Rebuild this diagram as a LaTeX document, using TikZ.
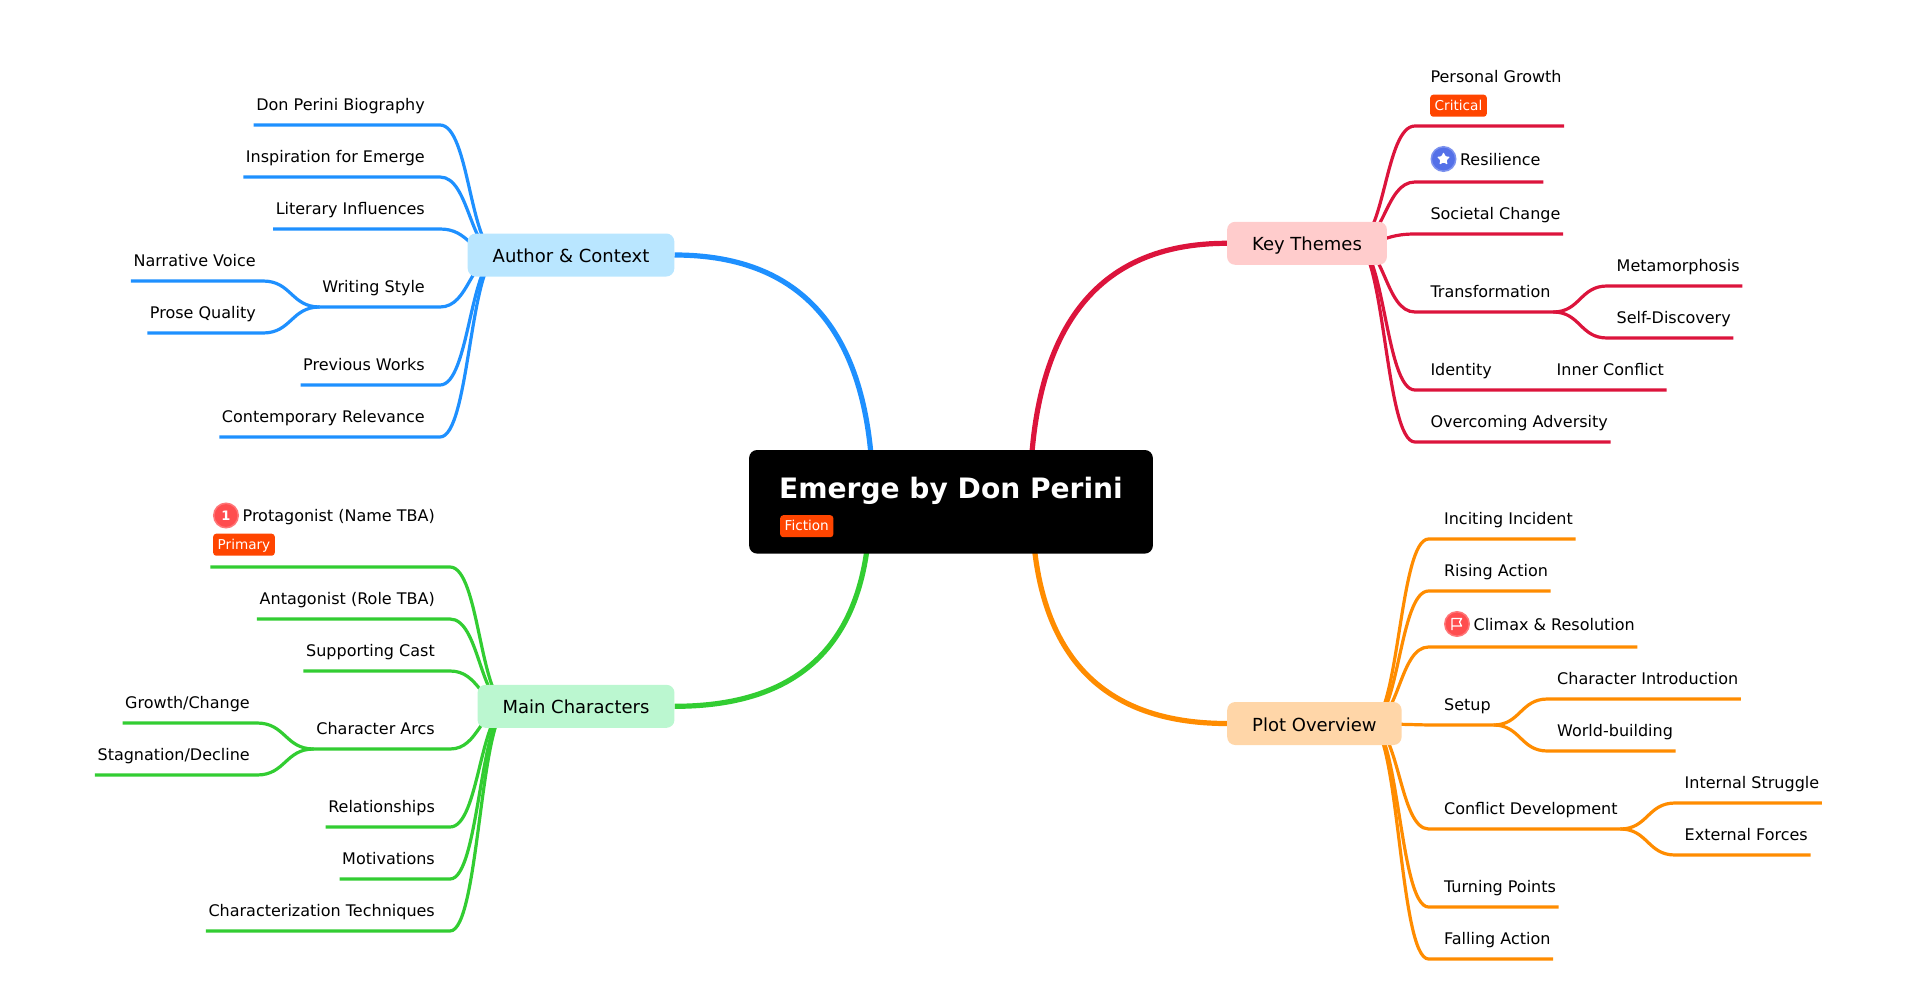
\documentclass[tikz,border=0pt]{standalone}
\usepackage{fontspec}
\setmainfont{DejaVu Sans}
\usetikzlibrary{calc, shapes.geometric, backgrounds}
\definecolor{ablue}{HTML}{1E90FF}
\definecolor{mgreen}{HTML}{32CD32}
\definecolor{kred}{HTML}{DC143C}
\definecolor{porange}{HTML}{FF8C00}
\definecolor{afill}{HTML}{B9E6FF}
\definecolor{mfill}{HTML}{BBF7D0}
\definecolor{kfill}{HTML}{FFCCCC}
\definecolor{pfill}{HTML}{FFD6A8}
\definecolor{tagfill}{HTML}{FF4500}
\definecolor{iconred}{HTML}{FF4D4F}
\definecolor{iconredl}{HTML}{FF7577}
\definecolor{iconblue}{HTML}{5470E8}
\definecolor{iconbluel}{HTML}{7C92EE}
\tikzstyle{branch}=[rounded corners=8pt, inner ysep=0pt, inner xsep=25pt, minimum height=43pt, text height=15pt, text depth=0pt, font=\fontsize{18}{22}\selectfont]
\tikzstyle{leaf}=[inner sep=0pt, text height=12pt, text depth=14pt, font=\fontsize{16}{19}\selectfont]
\tikzstyle{lfl}=[leaf, anchor=south east, execute at begin node=\hspace{2.5pt}, execute at end node=\hspace{15pt}]
\tikzstyle{lfr}=[leaf, anchor=south west, execute at begin node=\hspace{15.3pt}, execute at end node=\hspace{2.5pt}]
\tikzstyle{chl}=[leaf, anchor=south east, execute at begin node=\hspace{2.5pt}, execute at end node=\hspace{7pt}]
\tikzstyle{chr}=[leaf, anchor=south west, execute at begin node=\hspace{9.5pt}, execute at end node=\hspace{2.5pt}]
\tikzstyle{tagbox}=[anchor=north west, rounded corners=3pt, fill=tagfill, text=white, inner xsep=4.5pt, inner ysep=0pt, text height=11pt, text depth=2pt, minimum height=22pt, font=\fontsize{13.6}{16}\selectfont]
\tikzstyle{iconc}=[circle, inner sep=0pt, minimum size=24.5pt, line width=1.5pt, text=white, font=\fontsize{13}{15}\selectfont\bfseries]
\tikzstyle{sub}=[line width=3.2pt, to path={.. controls ($(\tikztostart)!.5!(\tikztotarget|-\tikztostart)$) and ($(\tikztotarget)!.5!(\tikztostart|-\tikztotarget)$) .. (\tikztotarget)}]
\tikzstyle{trunk}=[line width=5.2pt, to path={.. controls ($(\tikztostart)!.667!(\tikztostart|-\tikztotarget)$) and ($(\tikztotarget)!.667!(\tikztostart|-\tikztotarget)$) .. (\tikztotarget)}]
\begin{document}
\begin{tikzpicture}[x=1pt, y=-1pt]
\useasboundingbox (0,0) rectangle (1917,1004);

\node[fill=black, text=white, rounded corners=8pt, inner sep=0pt, inner xsep=30pt, text height=48.3pt, text depth=55.3pt, font=\fontsize{28.1}{34}\selectfont\bfseries] (root) at (951,501.8) {Emerge by Don Perini};
\node[tagbox] (fiction) at (780,515) {Fiction};

\node[branch, fill=afill] (ac) at (571,255) {Author \& Context};
\node[branch, fill=mfill] (mc) at (576,706.3) {Main Characters};
\node[branch, fill=kfill] (kt) at (1307,243.3) {Key Themes};
\node[branch, fill=pfill] (po) at (1314.4,723.5) {Plot Overview};

\node[lfl] (a1) at (440,125) {Don Perini Biography};
\node[lfl] (a2) at (440,177) {Inspiration for Emerge};
\node[lfl] (a3) at (440,229) {Literary Influences};
\node[lfl] (a4) at (440,307) {Writing Style};
\node[chl] (a4a) at (263,281) {Narrative Voice};\node[chl] (a4b) at (263,333) {Prose Quality};
\node[lfl] (a5) at (440,385) {Previous Works};
\node[lfl] (a6) at (440,437) {Contemporary Relevance};

\node[lfl, text depth=45pt] (m1) at (450,567) {\hspace{29.5pt}Protagonist (Name TBA)};
\node[iconc, fill=iconred, draw=iconredl] (m1i) at (226,515.5) {1};
\node[tagbox] (primary) at (213,533.5) {Primary};
\node[lfl] (m2) at (450,619) {Antagonist (Role TBA)};
\node[lfl] (m3) at (450,671) {Supporting Cast};
\node[lfl] (m4) at (450,749) {Character Arcs};
\node[chl] (m4a) at (257,723) {Growth/Change};\node[chl] (m4b) at (257,775) {Stagnation/Decline};
\node[lfl] (m5) at (450,827) {Relationships};
\node[lfl] (m6) at (450,879) {Motivations};
\node[lfl] (m7) at (450,931) {Characterization Techniques};

\node[lfr, text depth=43pt] (k1) at (1415,126) {Personal Growth};
\node[tagbox] (critical) at (1430,94.5) {Critical};
\node[lfr, text depth=16pt] (k2) at (1415,182) {\hspace{29.5pt}Resilience};
\node[iconc, fill=iconblue, draw=iconbluel] (k2i) at (1443.5,159) {};
\node[star, star points=5, star point ratio=2.1, fill=white, inner sep=0pt, minimum size=14pt, rounded corners=1pt] (k2s) at (1443.5,159) {};
\node[lfr] (k3) at (1415,234) {Societal Change};
\node[lfr] (k4) at (1415,312) {Transformation};
\node[chr] (k4a) at (1607,286) {Metamorphosis};\node[chr] (k4b) at (1607,338) {Self-Discovery};
\node[lfr] (k5) at (1415,390) {Identity};
\node[chr] (k5a) at (1547,390) {Inner Conflict};
\node[lfr] (k6) at (1415,442) {Overcoming Adversity};

\node[lfr] (p1) at (1428.6,539) {Inciting Incident};
\node[lfr] (p2) at (1428.6,591) {Rising Action};
\node[lfr, text depth=16pt] (p3) at (1428.6,647) {\hspace{29.5pt}Climax \& Resolution};
\node[iconc, fill=iconred, draw=iconredl] (p3i) at (1457,624) {};
\draw[white, line width=1.3pt, line join=round, shift={(p3i.center)}] (-5,6) -- (-5,-5.5) -- (4.5,-5.5) -- (2.5,-2) -- (4.5,2) -- (-5,2);
\node[lfr] (p4) at (1428.6,725) {Setup};
\node[chr] (p4a) at (1547.5,699) {Character Introduction};\node[chr] (p4b) at (1547.5,751) {World-building};
\node[lfr] (p5) at (1428.6,829) {Conflict Development};
\node[chr] (p5a) at (1675,803) {Internal Struggle};\node[chr] (p5b) at (1675,855) {External Forces};
\node[lfr] (p6) at (1428.6,907) {Turning Points};
\node[lfr] (p7) at (1428.6,959) {Falling Action};

\begin{pgfonlayer}{background}
\draw[ablue, trunk] ([xshift=-78pt]root.center) to (ac.east);
\draw[mgreen, trunk] ([xshift=-81pt]root.center) to (mc.east);
\draw[kred, trunk] ([xshift=79pt]root.center) to (kt.west);
\draw[porange, trunk] ([xshift=81pt]root.center) to (po.west);

\draw[ablue, sub] ([xshift=32pt]ac.west) to (a1.south east) -- (a1.south west);
\draw[ablue, sub] ([xshift=32pt]ac.west) to (a2.south east) -- (a2.south west);
\draw[ablue, sub] ([xshift=32pt]ac.west) to (a3.south east) -- (a3.south west);
\draw[ablue, sub] ([xshift=32pt]ac.west) to (a4.south east) -- (a4.south west);
\draw[ablue, sub] (a4.south west) to (a4a.south east) -- (a4a.south west);
\draw[ablue, sub] (a4.south west) to (a4b.south east) -- (a4b.south west);
\draw[ablue, sub] ([xshift=32pt]ac.west) to (a5.south east) -- (a5.south west);
\draw[ablue, sub] ([xshift=32pt]ac.west) to (a6.south east) -- (a6.south west);

\draw[mgreen, sub] ([xshift=32pt]mc.west) to (m1.south east) -- (m1.south west);
\draw[mgreen, sub] ([xshift=32pt]mc.west) to (m2.south east) -- (m2.south west);
\draw[mgreen, sub] ([xshift=32pt]mc.west) to (m3.south east) -- (m3.south west);
\draw[mgreen, sub] ([xshift=32pt]mc.west) to (m4.south east) -- (m4.south west);
\draw[mgreen, sub] (m4.south west) to (m4a.south east) -- (m4a.south west);
\draw[mgreen, sub] (m4.south west) to (m4b.south east) -- (m4b.south west);
\draw[mgreen, sub] ([xshift=32pt]mc.west) to (m5.south east) -- (m5.south west);
\draw[mgreen, sub] ([xshift=32pt]mc.west) to (m6.south east) -- (m6.south west);
\draw[mgreen, sub] ([xshift=32pt]mc.west) to (m7.south east) -- (m7.south west);

\draw[kred, sub] ([xshift=-32pt]kt.east) to (k1.south west) -- (k1.south east);
\draw[kred, sub] ([xshift=-32pt]kt.east) to (k2.south west) -- (k2.south east);
\draw[kred, sub] ([xshift=-32pt]kt.east) to (k3.south west) -- (k3.south east);
\draw[kred, sub] ([xshift=-32pt]kt.east) to (k4.south west) -- (k4.south east);
\draw[kred, sub] (k4.south east) to (k4a.south west) -- (k4a.south east);
\draw[kred, sub] (k4.south east) to (k4b.south west) -- (k4b.south east);
\draw[kred, sub] ([xshift=-32pt]kt.east) to (k5.south west) -- (k5.south east) -- (k5a.south west) -- (k5a.south east);
\draw[kred, sub] ([xshift=-32pt]kt.east) to (k6.south west) -- (k6.south east);

\draw[porange, sub] ([xshift=-32pt]po.east) to (p1.south west) -- (p1.south east);
\draw[porange, sub] ([xshift=-32pt]po.east) to (p2.south west) -- (p2.south east);
\draw[porange, sub] ([xshift=-32pt]po.east) to (p3.south west) -- (p3.south east);
\draw[porange, sub] ([xshift=-32pt]po.east) to (p4.south west) -- (p4.south east);
\draw[porange, sub] (p4.south east) to (p4a.south west) -- (p4a.south east);
\draw[porange, sub] (p4.south east) to (p4b.south west) -- (p4b.south east);
\draw[porange, sub] ([xshift=-32pt]po.east) to (p5.south west) -- (p5.south east);
\draw[porange, sub] (p5.south east) to (p5a.south west) -- (p5a.south east);
\draw[porange, sub] (p5.south east) to (p5b.south west) -- (p5b.south east);
\draw[porange, sub] ([xshift=-32pt]po.east) to (p6.south west) -- (p6.south east);
\draw[porange, sub] ([xshift=-32pt]po.east) to (p7.south west) -- (p7.south east);
\end{pgfonlayer}
\end{tikzpicture}
\end{document}
